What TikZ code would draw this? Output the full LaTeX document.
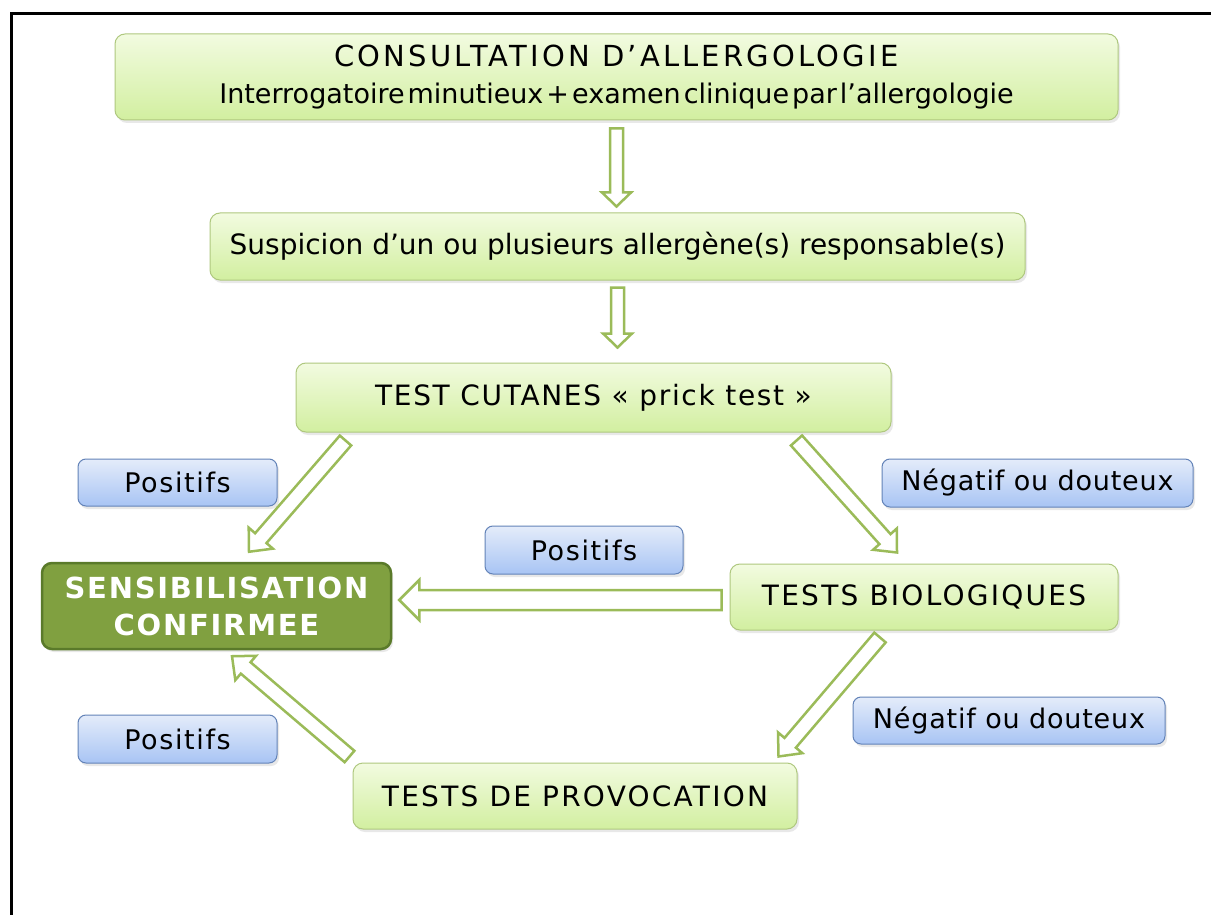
\documentclass[tikz,border=0pt]{standalone}
\usepackage{fontspec}
\setmainfont{DejaVu Sans}
\usetikzlibrary{calc,shadows}
\definecolor{gtop}{HTML}{F2FBE0}
\definecolor{gbot}{HTML}{D2EFA0}
\definecolor{gline}{HTML}{AFC87F}
\definecolor{arrowc}{HTML}{9BBB59}
\definecolor{dgfill}{HTML}{80A040}
\definecolor{dgline}{HTML}{5A7A2A}
\definecolor{btop}{HTML}{E4ECFA}
\definecolor{bbot}{HTML}{A8C4F4}
\definecolor{bline}{HTML}{6383B8}
\newcommand\blockarrow[5]{%
  \draw[barrow] let \p1=#1, \p2=#2, \n1={atan2(\y2-\y1,\x2-\x1)}, \n2={veclen(\x2-\x1,\y2-\y1)} in
  [shift={(\x1,\y1)}, rotate=\n1]
  (0pt,#3pt) -- ({(\n2-#5)*1pt},#3pt) -- ({(\n2-#5)*1pt},#4pt) -- ({\n2*1pt},0pt)
  -- ({(\n2-#5)*1pt},-#4pt) -- ({(\n2-#5)*1pt},-#3pt) -- (0pt,-#3pt) -- cycle;}
\tikzset{
  gbox/.style={draw=gline, line width=1pt, rounded corners=10pt, top color=gtop, bottom color=gbot,
    inner sep=0pt, align=center, font=\fontsize{28}{37}\selectfont,
    drop shadow={opacity=0.18, shadow xshift=2pt, shadow yshift=-3pt}},
  capsfont/.style={font=\fontsize{28}{37}\selectfont\addfontfeatures{LetterSpace=8}},
  bbox/.style={draw=bline, line width=1pt, rounded corners=8pt, top color=btop, bottom color=bbot,
    inner sep=0pt, align=center, font=\fontsize{27}{34}\selectfont\addfontfeatures{LetterSpace=3},
    drop shadow={opacity=0.18, shadow xshift=2pt, shadow yshift=-3pt}},
  sbox/.style={draw=dgline, line width=2.5pt, rounded corners=10pt, fill=dgfill, text=white,
    inner sep=0pt, align=center, font=\fontsize{29}{37}\selectfont\bfseries\addfontfeatures{LetterSpace=6},
    drop shadow={opacity=0.18, shadow xshift=2pt, shadow yshift=-3pt}},
  barrow/.style={draw=arrowc, line width=2.5pt, fill=white, line join=miter}
}
\begin{document}
\begin{tikzpicture}[x=1pt,y=-1pt]
\useasboundingbox (0,0) rectangle (1211,915);
\fill[white] (0,0) rectangle (1211,915);
\draw[line width=3pt] (11,915) -- (11,14) -- (1211,14);

\node[gbox, minimum width=1003pt, minimum height=86pt] (top) at (616.5,77)
  {{\fontsize{29}{37}\selectfont\addfontfeatures{LetterSpace=11}CONSULTATION D’ALLERGOLOGIE}\\
   {\fontsize{27}{37}\selectfont\spaceskip=3pt Interrogatoire minutieux + examen clinique par l’allergologie}};
\node[gbox, minimum width=815pt, minimum height=67pt] (susp) at (617.5,246.5)
  {Suspicion d’un ou plusieurs allergène(s) responsable(s)};
\node[gbox, minimum width=595pt, minimum height=69pt, font=\fontsize{28}{37}\selectfont\addfontfeatures{LetterSpace=6}] (cut) at (593.5,397.5)
  {TEST CUTANES « prick test »};
\node[gbox, capsfont, minimum width=388pt, minimum height=66pt] (bio) at (924,597)
  {TESTS BIOLOGIQUES};
\node[sbox, minimum width=349pt, minimum height=86pt] (sens) at (216.5,606)
  {SENSIBILISATION\\CONFIRMEE};
\node[gbox, capsfont, minimum width=444pt, minimum height=66pt] (prov) at (575,796)
  {TESTS DE PROVOCATION};

\node[bbox, minimum width=199pt, minimum height=47pt, font=\fontsize{27}{34}\selectfont\addfontfeatures{LetterSpace=6}] (pos1) at (177.5,482.5) {Positifs};
\node[bbox, minimum width=311pt, minimum height=48pt] (neg1) at (1037.5,483) {Négatif ou douteux};
\node[bbox, minimum width=198pt, minimum height=48pt, font=\fontsize{27}{34}\selectfont\addfontfeatures{LetterSpace=6}] (pos2) at (584,550) {Positifs};
\node[bbox, minimum width=312pt, minimum height=47pt] (neg2) at (1009,720.5) {Négatif ou douteux};
\node[bbox, minimum width=199pt, minimum height=48pt, font=\fontsize{27}{34}\selectfont\addfontfeatures{LetterSpace=6}] (pos3) at (177.5,739) {Positifs};

\blockarrow{($(top.south)+(0,8)$)}{($(top.south |- susp.north)+(0,-6)$)}{6.5}{14.5}{14}
\blockarrow{($(susp.south)+(0,7)$)}{($(susp.south |- cut.north)+(0,-15)$)}{6.5}{14.5}{14}
\blockarrow{($(cut.south west)+(50,8)$)}{($(sens.north)+(32.5,-10)$)}{7.5}{16}{18}
\blockarrow{($(cut.south east)+(-95,8)$)}{($(bio.north)+(-27,-11)$)}{7.5}{16}{18}
\blockarrow{($(bio.west)+(-8,3)$)}{($(sens.east)+(7,-6)$)}{10}{20}{20}
\blockarrow{($(bio.south)+(-44,7)$)}{($(prov.north east)+(-19,-6)$)}{7.5}{16}{18}
\blockarrow{($(prov.north west)+(-3,-6)$)}{($(sens.south)+(15.5,6)$)}{7.5}{16}{18}
\end{tikzpicture}
\end{document}
